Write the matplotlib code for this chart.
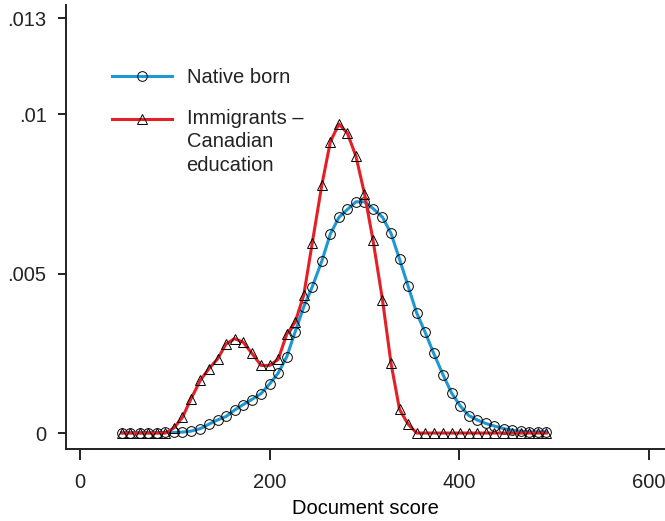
import numpy as np
import matplotlib
matplotlib.use('Agg')
import matplotlib.pyplot as plt
from matplotlib.legend_handler import HandlerLine2D

plt.rcParams['font.family'] = ['Liberation Sans', 'DejaVu Sans']
plt.rcParams['font.size'] = 14.5

# kernel density estimates
scores = [44, 53, 63, 72, 81, 90, 99, 108, 117, 127, 136, 145, 154, 163, 172,
          181, 191, 200, 209, 218, 227, 236, 245, 255, 264, 273, 282, 291, 300,
          309, 319, 328, 337, 346, 355, 364, 373, 383, 392, 401, 410, 419, 428,
          437, 447, 456, 465, 474, 483, 492]
native = [0.00001, 0.00001, 0.00001, 0.00001, 0.00001, 0.00002, 0.00002, 0.00003,
          0.00006, 0.00014, 0.00028, 0.00041, 0.00052, 0.00072, 0.00089, 0.00105,
          0.00124, 0.00154, 0.00188, 0.00239, 0.00318, 0.00396, 0.00459, 0.00539,
          0.00624, 0.00676, 0.00701, 0.00725, 0.00725, 0.00704, 0.00677, 0.00626,
          0.00545, 0.00461, 0.00377, 0.00316, 0.00250, 0.00182, 0.00125, 0.00085,
          0.00055, 0.00041, 0.00030, 0.00022, 0.00014, 0.00009, 0.00006, 0.00004,
          0.00004, 0.00004]
immig_can = [0.0, 0.0, 0.0, 0.0, 0.0, 0.0, 0.00016, 0.00049, 0.00107, 0.00166,
             0.00202, 0.00232, 0.00279, 0.00296, 0.00285, 0.00251, 0.00212, 0.00212,
             0.00231, 0.00310, 0.00348, 0.00433, 0.00597, 0.00777, 0.00913, 0.00969,
             0.00940, 0.00868, 0.00751, 0.00605, 0.00418, 0.00219, 0.00074, 0.00028,
             0.0, 0.0, 0.0, 0.0, 0.0, 0.0, 0.0, 0.0, 0.0, 0.0, 0.0, 0.0, 0.0, 0.0,
             0.0, 0.0]

xticks = [0, 200, 400, 600]
yticks = [0, 0.005, 0.01, 0.013]
ytick_labels = ['0', '.005', '.01', '.013']

blue = '#1b98d5'
red = '#e61f27'


class TopLineHandler(HandlerLine2D):
    # put the legend sample level with the first line of a multi-line label
    def __init__(self, shift, **kw):
        super().__init__(**kw)
        self.shift = shift

    def create_artists(self, legend, orig_handle, xdescent, ydescent, width,
                       height, fontsize, trans):
        arts = super().create_artists(legend, orig_handle, xdescent, ydescent,
                                      width, height, fontsize, trans)
        for a in arts:
            a.set_ydata(np.asarray(a.get_ydata()) + self.shift)
        return arts


fig = plt.figure(figsize=(6.65, 5.21), dpi=100)
ax = fig.add_axes([66/665, 1 - 449/521, 1 - 66/665, (449 - 5)/521])

l1, = ax.plot(scores, native, color=blue, lw=2.2, marker='o', ms=7,
              mfc='none', mec='black', mew=0.7, label='Native born')
l2, = ax.plot(scores, immig_can, color=red, lw=2.2, marker='^', ms=6.8,
              mfc='none', mec='black', mew=0.7,
              label='Immigrants \u2013\nCanadian\neducation')

ax.set_xlim(-14.8, 617)
ax.set_ylim(-0.0005, 0.01342)
ax.set_xticks(xticks)
ax.set_yticks(yticks)
ax.set_yticklabels(ytick_labels)
ax.set_xlabel('Document score', labelpad=5)

for s in ['top', 'right']:
    ax.spines[s].set_visible(False)
for s in ['left', 'bottom']:
    ax.spines[s].set_linewidth(1.4)
    ax.spines[s].set_color('#222222')
ax.tick_params(axis='both', direction='out', width=1.4,
               color='#222222', labelcolor='#222222')
ax.tick_params(axis='y', length=6, pad=8)
ax.tick_params(axis='x', length=8, pad=9)

leg = ax.legend(handles=[l1, l2], loc='upper left',
                bbox_to_anchor=(112/665, 1 - 68/521),
                bbox_transform=fig.transFigure, frameon=False, numpoints=1,
                handlelength=3.0, handletextpad=0.7, borderpad=0,
                borderaxespad=0, labelspacing=1.08,
                handler_map={l2: TopLineHandler(shift=16.8)})
for t in leg.get_texts():
    t.set_color('#222222')
    t.set_linespacing(1.3)

fig.savefig('out.png', dpi=100)
